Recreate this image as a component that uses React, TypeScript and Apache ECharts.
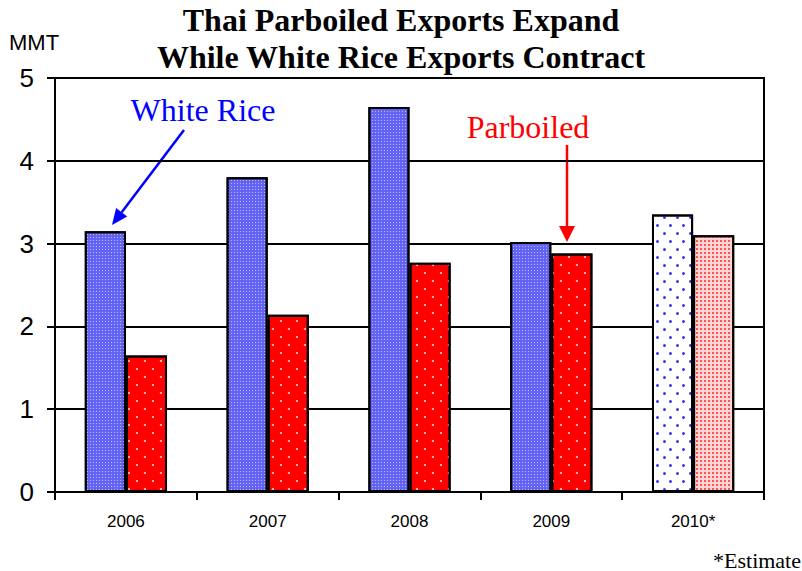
import React, { useEffect, useRef } from "react";
import * as echarts from "echarts";

const categories = ["2006", "2007", "2008", "2009", "2010*"];
const whiteRice = [3.15, 3.8, 4.65, 3.02, 3.35];
const parboiled = [1.65, 2.14, 2.77, 2.88, 3.1];
const yTicks = { min: 0, max: 5, interval: 1 };

const whiteDecal = {
  symbol: "rect",
  symbolSize: 1,
  color: "rgba(255,255,255,0.55)",
  dashArrayX: [1, 2],
  dashArrayY: [1, 2],
};
const redDecal = {
  symbol: "circle",
  symbolSize: 1,
  color: "rgba(255,235,235,0.95)",
  dashArrayX: [
    [2, 14],
    [0, 8, 2, 6],
  ],
  dashArrayY: [2, 6],
};
const whiteEstDecal = {
  symbol: "circle",
  symbolSize: 1,
  color: "#3a3aff",
  dashArrayX: [
    [2.5, 9.5],
    [0, 6, 2.5, 3.5],
  ],
  dashArrayY: [2.5, 4.5],
};
const redEstDecal = {
  symbol: "rect",
  symbolSize: 1,
  color: "rgba(255,40,40,0.75)",
  dashArrayX: [2, 2],
  dashArrayY: [2, 2],
};

export default function App() {
  const ref = useRef<HTMLDivElement>(null);
  useEffect(() => {
    document.body.style.margin = "0";
    const chart = echarts.init(ref.current!, undefined, { renderer: "svg" });
    const last = categories.length - 1;
    chart.setOption({
      animation: false,
      backgroundColor: "#ffffff",
      title: {
        text: "Thai Parboiled Exports Expand\nWhile White Rice Exports Contract",
        left: "center",
        top: -4,
        textStyle: {
          fontFamily: "Liberation Serif",
          fontSize: 32,
          fontWeight: "bold",
          lineHeight: 37,
          color: "#000",
        },
      },
      grid: {
        left: 55,
        right: 38,
        top: 78,
        bottom: 79,
        show: true,
        borderColor: "#000",
        borderWidth: 2,
        backgroundColor: "transparent",
      },
      xAxis: {
        type: "category",
        data: categories,
        axisLine: { show: true, lineStyle: { color: "#000", width: 2 } },
        axisTick: { show: true, length: 8, lineStyle: { color: "#000", width: 2 } },
        axisLabel: {
          margin: 21,
          fontFamily: "Liberation Sans",
          fontSize: 17,
          color: "#000",
        },
        splitLine: { show: false },
      },
      yAxis: {
        type: "value",
        min: yTicks.min,
        max: yTicks.max,
        interval: yTicks.interval,
        axisLine: { show: true, lineStyle: { color: "#000", width: 2 } },
        axisTick: { show: true, length: 8, lineStyle: { color: "#000", width: 2 } },
        axisLabel: {
          margin: 21,
          fontFamily: "Liberation Sans",
          fontSize: 26,
          color: "#000",
        },
        splitLine: { show: true, lineStyle: { color: "#000", width: 2 } },
      },
      series: [
        {
          name: "White Rice",
          type: "bar",
          barWidth: "29%",
          barGap: "0%",
          data: whiteRice.map((v, i) => ({
            value: v,
            itemStyle:
              i === last
                ? { color: "#ffffff", decal: whiteEstDecal }
                : { color: "#6464f4", decal: whiteDecal },
          })),
          itemStyle: { borderColor: "#000", borderWidth: 2 },
        },
        {
          name: "Parboiled",
          type: "bar",
          barWidth: "29%",
          barGap: "0%",
          data: parboiled.map((v, i) => ({
            value: v,
            itemStyle:
              i === last
                ? { color: "#ffd6d6", decal: redEstDecal }
                : { color: "#ff0000", decal: redDecal },
          })),
          itemStyle: { borderColor: "#000", borderWidth: 2 },
        },
      ],
      graphic: [
        {
          type: "text",
          left: 9,
          top: 31,
          style: {
            text: "MMT",
            fontFamily: "Liberation Sans",
            fontSize: 22,
            fill: "#000",
          },
        },
        {
          type: "text",
          right: 1,
          top: 549,
          style: {
            text: "*Estimate",
            fontFamily: "Liberation Serif",
            fontSize: 22,
            fill: "#000",
          },
        },
        {
          type: "text",
          x: 203,
          y: 110,
          style: {
            text: "White Rice",
            fontFamily: "Liberation Serif",
            fontSize: 32,
            fill: "#0000ff",
            align: "center",
            verticalAlign: "middle",
          },
        },
        {
          type: "text",
          x: 528,
          y: 127,
          style: {
            text: "Parboiled",
            fontFamily: "Liberation Serif",
            fontSize: 32,
            fill: "#ff0000",
            align: "center",
            verticalAlign: "middle",
          },
        },
        {
          type: "line",
          shape: { x1: 184, y1: 130, x2: 121.7, y2: 212.2 },
          style: { stroke: "#0000ff", lineWidth: 2.5 },
        },
        {
          type: "polygon",
          shape: {
            points: [
              [112, 225],
              [127.2, 216.5],
              [116.1, 208.0],
            ],
          },
          style: { fill: "#0000ff" },
        },
        {
          type: "line",
          shape: { x1: 567, y1: 145, x2: 567, y2: 228 },
          style: { stroke: "#ff0000", lineWidth: 2.5 },
        },
        {
          type: "polygon",
          shape: {
            points: [
              [567, 242],
              [575, 226],
              [559, 226],
            ],
          },
          style: { fill: "#ff0000" },
        },
      ],
    });
    return () => chart.dispose();
  }, []);
  return (
    <div
      ref={ref}
      style={{ position: "fixed", left: 0, top: 0, width: 802, height: 571 }}
    />
  );
}
